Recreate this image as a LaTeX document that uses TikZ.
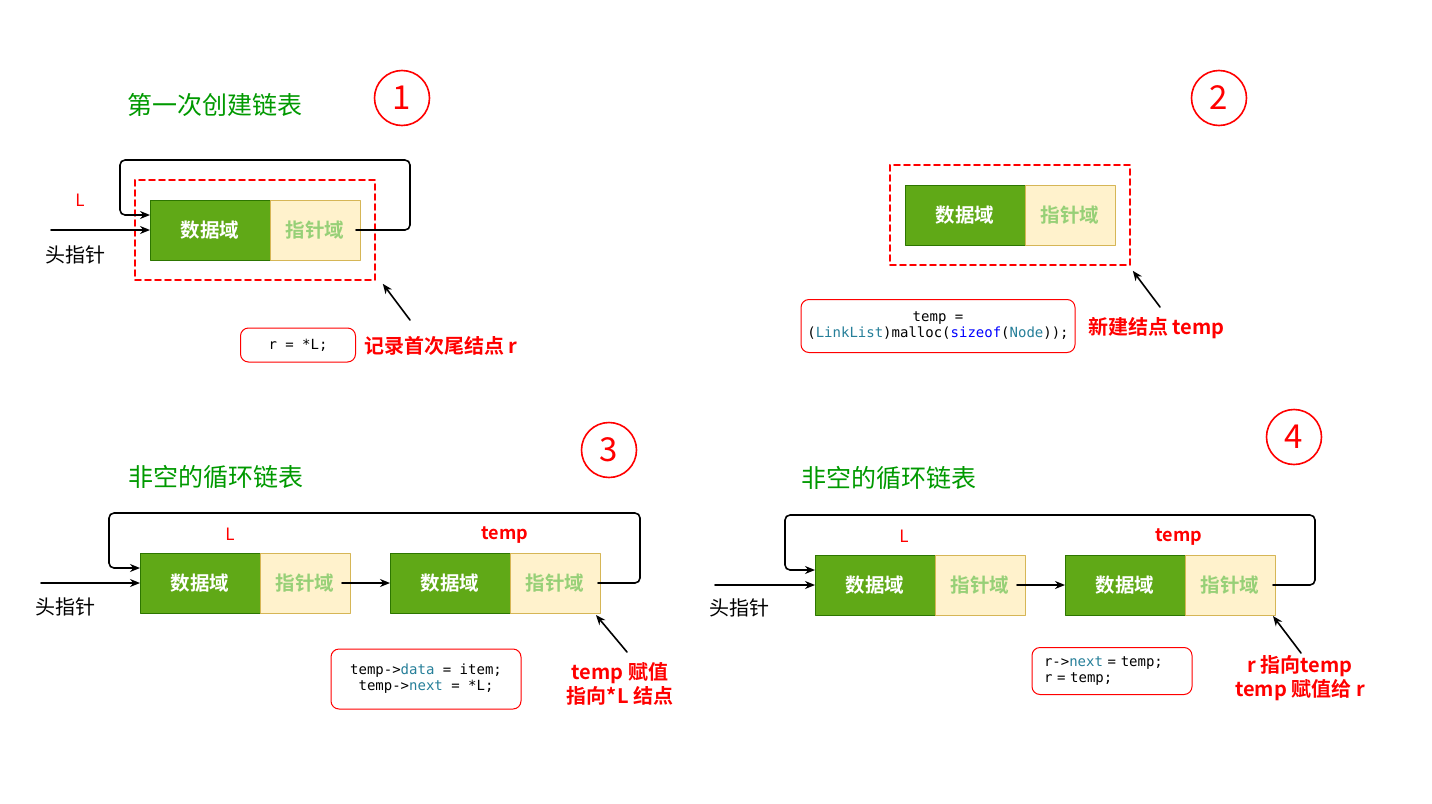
\documentclass[tikz,border=0pt]{standalone}
\usepackage{fontspec}
\setmainfont{Noto Sans CJK SC}[BoldFont={Noto Sans CJK SC Bold}]
\setmonofont{DejaVu Sans Mono}
\usetikzlibrary{calc,arrows.meta,positioning,fit}

\begin{document}
\begin{tikzpicture}[x=1pt, y=-1pt, >={Stealth[length=10pt,width=8pt]}, line join=round, line cap=round]

		% Colours (draw.io like)
		\definecolor{datagreen}{HTML}{60A917}
		\definecolor{databorder}{HTML}{2D7600}
		\definecolor{ptrfill}{HTML}{FFF2CC}
		\definecolor{ptrborder}{HTML}{D6B656}
		\definecolor{ptrtext}{HTML}{97D077}
		\definecolor{titlegreen}{RGB}{0, 153, 0}
		\definecolor{myred}{RGB}{255, 0, 0}
		\definecolor{codeteal}{RGB}{38, 127, 153}
		\definecolor{codeblue}{RGB}{0, 0, 255}

		\tikzset{
			databox/.style={draw=databorder, fill=datagreen, text=white, minimum width=120pt, minimum height=60pt, inner sep=0pt, outer sep=0pt, font=\fontsize{19.5}{20}\selectfont\bfseries},
			ptrbox/.style={draw=ptrborder, fill=ptrfill, text=ptrtext, minimum width=90pt, minimum height=60pt, inner sep=0pt, outer sep=0pt, font=\fontsize{19.5}{20}\selectfont\bfseries},
			link/.style={->, black, line width=1.6pt},
			dashbox/.style={draw=myred, line width=1.6pt, dash pattern=on 6pt off 4pt, inner xsep=15pt, inner ysep=20pt},
			codebox/.style={draw=myred, fill=white, line width=1pt, rounded corners=8pt, inner sep=0pt, font=\fontsize{14}{16}\ttfamily},
			note/.style={text=myred, font=\fontsize{20}{24}\selectfont\bfseries, align=center, inner sep=0pt},
			title/.style={text=titlegreen, font=\fontsize{25}{26}\selectfont},
			stepnum/.style={circle, draw=myred, line width=1.6pt, fill=white, minimum size=55pt, inner sep=0pt, text=myred, font=\fontsize{33}{33}\selectfont},
			lbl/.style={text=myred, font=\fontsize{17}{18}\selectfont},
			tmplbl/.style={text=myred, font=\fontsize{18}{18}\selectfont\bfseries},
			headlbl/.style={font=\fontsize{20}{20}\selectfont}
		}

		\useasboundingbox (0,0) rectangle (1432,803);

		% ===== 1. First creation =====
		\node[title] (t1) at (215,105) {第一次创建链表};
		\node[stepnum] (s1) at (402,98) {1};

		\node[databox] (d1) at (210,230) {数据域};
		\node[ptrbox, right=0pt of d1] (p1) {指针域};
		\node[dashbox, fit=(d1)(p1)] (g1) {};

		\node[lbl] (L1) at (80,200) {L};
		\node[headlbl] (hl1) at (75,255) {头指针};
		\coordinate (h1) at (51,230);
		\draw[link] (h1) -- (d1.west);

		% loop back to itself
		\draw[link, rounded corners=5pt] ([xshift=-4pt]p1.east) -- ++(54,0) -- ++(0,-70)
			-| ([xshift=-30pt, yshift=15pt]d1.west) -- ([yshift=15pt]d1.west);

		\node[codebox, minimum width=115pt, minimum height=34pt] (c1) at (298,345) {r = *L;};
		\node[note, anchor=west] (n1) at (364,346) {记录首次尾结点 r};
		\coordinate (a1) at (410,320);
		\draw[link] (a1) -- ([xshift=7pt, yshift=-3pt]g1.south east);

		% ===== 2. New node =====
		\node[stepnum] (s2) at (1219,98) {2};

		\node[databox] (d2) at (965,215) {数据域};
		\node[ptrbox, right=0pt of d2] (p2) {指针域};
		\node[dashbox, fit=(d2)(p2)] (g2) {};

		\node[codebox, minimum width=274pt, minimum height=53pt, align=center] (c2) at (938,326) {temp =\\(\textcolor{codeteal}{LinkList})malloc(\textcolor{codeblue}{sizeof}(\textcolor{codeteal}{Node}));};
		\node[note, anchor=west] (n2) at (1088,328) {新建结点 temp};
		\coordinate (a2) at (1160,307);
		\draw[link] (a2) -- ([xshift=2pt, yshift=-5pt]g2.south east);

		% ===== 3. Non-empty circular list =====
		\node[title] (t3) at (216,477) {非空的循环链表};
		\node[stepnum] (s3) at (609,450) {3};

		\node[databox] (d3a) at (200,583) {数据域};
		\node[ptrbox, right=0pt of d3a] (p3a) {指针域};
		\node[databox, right=40pt of p3a] (d3b) {数据域};
		\node[ptrbox, right=0pt of d3b] (p3b) {指针域};

		\node[lbl] (L3) at (230,534) {L};
		\node[tmplbl] (tp3) at (505,535) {temp};
		\node[headlbl] (hl3) at (65,607) {头指针};
		\coordinate (h3) at (41,583);
		\draw[link] (h3) -- (d3a.west);
		\draw[link] ([xshift=-8pt]p3a.east) -- (d3b.west);
		\draw[link, rounded corners=5pt] ([xshift=-2pt]p3b.east) -- ++(42,0) -- ++(0,-70)
			-| ([xshift=-31pt, yshift=15pt]d3a.west) -- ([yshift=15pt]d3a.west);

		\node[codebox, minimum width=190pt, minimum height=60pt, align=center] (c3) at (426,679) {temp->\textcolor{codeteal}{data} = item;\\temp->\textcolor{codeteal}{next} = *L;};
		\node[note] (n3) at (620,684) {temp 赋值\\指向*L 结点};
		\coordinate (a3) at (627,652);
		\draw[link] (a3) -- ([xshift=-4pt, yshift=-2pt]p3b.south east);

		% ===== 4. Tail moves to temp =====
		\node[title] (t4) at (889,478) {非空的循环链表};
		\node[stepnum] (s4) at (1294,437) {4};

		\node[databox] (d4a) at (875,585) {数据域};
		\node[ptrbox, right=0pt of d4a] (p4a) {指针域};
		\node[databox, right=40pt of p4a] (d4b) {数据域};
		\node[ptrbox, right=0pt of d4b] (p4b) {指针域};

		\node[lbl] (L4) at (904,536) {L};
		\node[tmplbl] (tp4) at (1179,537) {temp};
		\node[headlbl] (hl4) at (739,608) {头指针};
		\coordinate (h4) at (715,585);
		\draw[link] (h4) -- (d4a.west);
		\draw[link] ([xshift=-8pt]p4a.east) -- (d4b.west);
		\draw[link, rounded corners=5pt] ([xshift=-2pt]p4b.east) -- ++(42,0) -- ++(0,-70)
			-| ([xshift=-30pt, yshift=15pt]d4a.west) -- ([yshift=15pt]d4a.west);

		\node[codebox, minimum width=160pt, minimum height=47pt, text width=136pt, align=left] (c4) at (1112,671) {r->\textcolor{codeteal}{next} = temp;\\r = temp;};
		\node[note] (n4) at (1300,678) {r 指向temp\\temp 赋值给 r};
		\coordinate (a4) at (1301,653);
		\draw[link] (a4) -- ([xshift=-2pt, yshift=-1pt]p4b.south east);

	\end{tikzpicture}
\end{document}
